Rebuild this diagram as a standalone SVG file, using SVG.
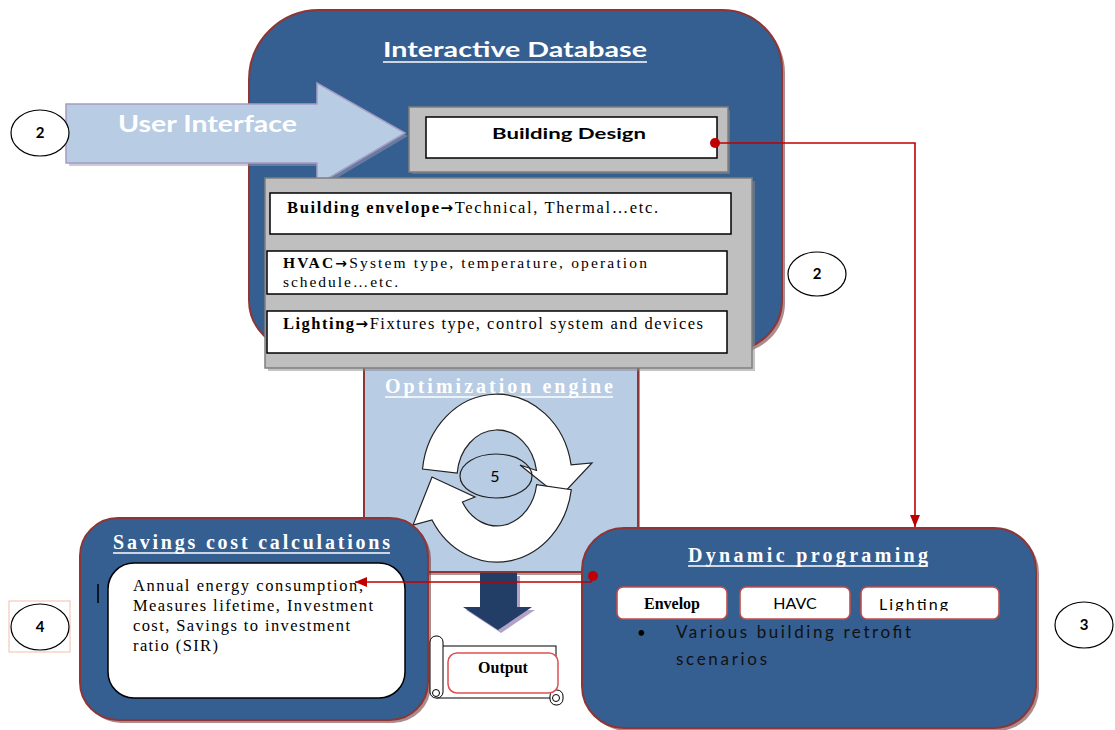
<svg xmlns="http://www.w3.org/2000/svg" width="1115" height="730" viewBox="0 0 1115 730">
<defs>
<style>
.blue{fill:#355e91;stroke:#8e3535;stroke-width:2}
.shadow{fill:#6e2a2a;opacity:0.55}
.gray{fill:#bfbfbf;stroke:#7f7f7f;stroke-width:1.5}
.wbox{fill:#ffffff;stroke:#000;stroke-width:1.5}
.num{fill:#fff;stroke:#000;stroke-width:1.2}
.numt{font-family:Lato,"Open Sans",sans-serif;font-weight:bold;font-size:15px;fill:#000;text-anchor:middle}
.sans{font-family:Lato,"Open Sans",sans-serif}
.serif{font-family:"Liberation Serif","Times New Roman",serif}
.arr{font-family:"DejaVu Sans",sans-serif;font-weight:bold}
.ttl{font-family:"Liberation Serif","Times New Roman",serif;font-weight:bold;fill:#fff}
.uline{stroke:#fff;stroke-width:1.3}
.red{stroke:#c00000;stroke-width:1.6;fill:none}
.cyc{fill:#fff;stroke:#222;stroke-width:1.2}
.sbox{fill:#fff;stroke:#c0504d;stroke-width:1.6}
</style>
<marker id="ah" viewBox="0 0 12 10" refX="12" refY="5" markerWidth="12" markerHeight="10" markerUnits="userSpaceOnUse" orient="auto">
<path d="M0,0 L12,5 L0,10 z" fill="#c00000"/>
</marker>
<clipPath id="lclip"><rect x="861" y="587" width="138" height="24"/></clipPath>
</defs>
<rect width="1115" height="730" fill="#fff"/>

<g id="optimization-engine">
<rect x="366" y="343" width="274" height="232" fill="#6e2a2a" opacity="0.5"/>
<rect x="364" y="340" width="274" height="232" fill="#b8cce4" stroke="#8e3535" stroke-width="2"/>
<text class="ttl" x="385" y="393" font-size="20" textLength="228" lengthAdjust="spacing">Optimization engine</text>
<line class="uline" x1="385" y1="397" x2="613" y2="397"/>
<g transform="translate(497,478)">
<path class="cyc" d="M -74.5,-9 A 75 84 0 0 1 74.1,-13.1 L 95,-15 L 63,19 L 23,-13 L 39.5,-7.5 A 40 48 0 0 0 -39.8,-5 Z"/>
<path class="cyc" d="M 74.3,11.7 A 75 84 0 0 1 -65,42 L -84,47 L -65,-1 L -22,19 L -34.6,24 A 40 48 0 0 0 39.6,6.7 Z"/>
<ellipse cx="-1" cy="-2" rx="36" ry="22" fill="none" stroke="#222" stroke-width="1.2"/>
<text class="sans" x="-2" y="4" font-size="16" text-anchor="middle" fill="#000">5</text>
</g>
</g>

<g id="interactive-database">
<path class="shadow" d="M 322,13 H 725 A 60 60 0 0 1 785,73 V 303 A 50 50 0 0 1 735,353 H 302 A 50 50 0 0 1 252,303 V 83 A 70 70 0 0 1 322,13 Z"/>
<path class="blue" d="M 319,10 H 722 A 60 60 0 0 1 782,70 V 300 A 50 50 0 0 1 732,350 H 299 A 50 50 0 0 1 249,300 V 80 A 70 70 0 0 1 319,10 Z"/>
<text class="sans" x="383" y="57" font-size="21" font-weight="bold" fill="#fff" textLength="264" lengthAdjust="spacingAndGlyphs">Interactive Database</text>
<line class="uline" x1="383" y1="62" x2="647" y2="62"/>
</g>

<g id="building-design">
<rect x="412" y="110" width="318" height="64" fill="#8a8a8a" opacity="0.5"/>
<rect class="gray" x="409" y="107" width="319" height="65"/>
<rect class="wbox" x="426" y="117" width="291" height="41"/>
<text class="sans" x="569" y="139" font-size="16" font-weight="bold" text-anchor="middle" fill="#000" textLength="154" lengthAdjust="spacingAndGlyphs">Building Design</text>
</g>

<g id="user-interface">
<path d="M 69,107 H 320 V 86 L 408,136 L 320,188 V 166 H 69 Z" fill="#9a9ab0" opacity="0.5"/>
<path d="M 66,104 H 317 V 83 L 405,133 L 317,185 V 163 H 66 Z" fill="#b8cce4" stroke="#a49cc4" stroke-width="1.5"/>
<text class="sans" x="118" y="132" font-size="22" font-weight="bold" fill="#fff" textLength="179" lengthAdjust="spacingAndGlyphs">User Interface</text>
</g>

<g id="parameters">
<rect x="268" y="181" width="487" height="190" fill="#8a8a8a" opacity="0.5"/>
<rect class="gray" x="265" y="178" width="487" height="190"/>
<rect class="wbox" x="270" y="193" width="461" height="41"/>
<text class="serif" x="287" y="213" font-size="16.5" fill="#000" textLength="371" lengthAdjust="spacing"><tspan font-weight="bold">Building envelope</tspan><tspan class="arr" font-size="15">→</tspan>Technical, Thermal…etc.</text>
<rect class="wbox" x="267" y="251" width="460" height="43"/>
<text class="serif" x="283" y="268" font-size="15.5" fill="#000" textLength="364" lengthAdjust="spacing"><tspan font-weight="bold">HVAC</tspan><tspan class="arr" font-size="14">→</tspan>System type, temperature, operation</text>
<text class="serif" x="283" y="287" font-size="15.5" fill="#000" textLength="115" lengthAdjust="spacing">schedule…etc.</text>
<rect class="wbox" x="267" y="311" width="460" height="42"/>
<text class="serif" x="283" y="329" font-size="16.5" fill="#000" textLength="420" lengthAdjust="spacing"><tspan font-weight="bold">Lighting</tspan><tspan class="arr" font-size="15">→</tspan>Fixtures type, control system and devices</text>
</g>

<g id="savings-cost">
<rect class="shadow" x="83" y="521" width="348" height="202" rx="38"/>
<rect class="blue" x="80" y="518" width="348" height="202" rx="38"/>
<text class="ttl" x="113" y="549" font-size="20" textLength="277" lengthAdjust="spacing">Savings cost calculations</text>
<line class="uline" x1="113" y1="553" x2="390" y2="553"/>
<rect class="wbox" x="108" y="563" width="297" height="135" rx="26"/>
<line x1="98" y1="584" x2="98" y2="603" stroke="#000" stroke-width="1.5"/>
<g class="serif" font-size="16.5" fill="#000">
<text x="133" y="591" textLength="230" lengthAdjust="spacing">Annual energy consumption,</text>
<text x="133" y="611" textLength="240" lengthAdjust="spacing">Measures lifetime, Investment</text>
<text x="133" y="631" textLength="217" lengthAdjust="spacing">cost, Savings to investment</text>
<text x="133" y="651" textLength="85" lengthAdjust="spacing">ratio (SIR)</text>
</g>
</g>

<g id="dynamic-programing">
<rect class="shadow" x="585" y="531" width="454" height="200" rx="42"/>
<rect class="blue" x="582" y="528" width="454" height="200" rx="42"/>
<text class="ttl" x="688" y="562" font-size="20" textLength="240" lengthAdjust="spacing">Dynamic programing</text>
<line class="uline" x1="688" y1="566" x2="928" y2="566"/>
<rect class="sbox" x="617" y="587" width="110" height="32" rx="6"/>
<text class="serif" x="672" y="609" font-size="16" font-weight="bold" text-anchor="middle" fill="#000">Envelop</text>
<rect class="sbox" x="740" y="587" width="110" height="32" rx="6"/>
<text class="sans" x="795" y="609" font-size="16" text-anchor="middle" fill="#000">HAVC</text>
<rect class="sbox" x="861" y="587" width="138" height="32" rx="6"/>
<text class="sans" x="879" y="610" font-size="16" fill="#000" clip-path="url(#lclip)" textLength="69" lengthAdjust="spacing">Lighting</text>
<text class="sans" x="637" y="638" font-size="15" fill="#000">•</text>
<text class="sans" x="676" y="638" font-size="17" fill="#111" textLength="235" lengthAdjust="spacing">Various building retrofit</text>
<text class="sans" x="676" y="665" font-size="17" fill="#111" textLength="91" lengthAdjust="spacing">scenarios</text>
</g>

<g id="output">
<path d="M 483,576 H 520 V 610 H 535 L 501,633 L 466,610 H 483 Z" fill="#b3a2c7"/>
<path d="M 480,573 H 517 V 607 H 532 L 498,630 L 463,607 H 480 Z" fill="#223e66"/>
<rect x="437" y="646" width="119" height="52" fill="#fff" stroke="#000" stroke-width="1"/>
<rect x="430" y="636" width="13" height="62" rx="6" fill="#fff" stroke="#000" stroke-width="1"/>
<circle cx="436" cy="693" r="3.5" fill="#fff" stroke="#000" stroke-width="1"/>
<rect x="550" y="690" width="13" height="15" rx="6" fill="#fff" stroke="#000" stroke-width="1"/>
<circle cx="556" cy="698" r="3.5" fill="#fff" stroke="#000" stroke-width="1"/>
<rect x="448" y="653" width="110" height="40" rx="9" fill="#fff" stroke="#e05050" stroke-width="1.5"/>
<text class="serif" x="503" y="673" font-size="16" font-weight="bold" text-anchor="middle" fill="#000">Output</text>
</g>

<g id="labels">
<g id="num-2-left"><ellipse class="num" cx="40" cy="133" rx="29" ry="23"/><text class="numt" x="40" y="138">2</text></g>
<g id="num-2-right"><ellipse class="num" cx="817" cy="274" rx="29" ry="22"/><text class="numt" x="817" y="279">2</text></g>
<g id="num-4"><rect x="9" y="601" width="61" height="51" fill="none" stroke="#f4c0a8" stroke-width="1"/><ellipse class="num" cx="40" cy="627" rx="29" ry="23"/><text class="numt" x="40" y="632">4</text></g>
<g id="num-3"><ellipse class="num" cx="1084" cy="625" rx="29" ry="23"/><text class="numt" x="1084" y="630">3</text></g>
</g>

<g id="connectors">
<polyline class="red" points="715,143 915,143 915,527" marker-end="url(#ah)"/>
<circle cx="715" cy="143" r="5" fill="#c00000"/>
<polyline class="red" points="593,576 591,582 355,582" marker-end="url(#ah)"/>
<circle cx="593" cy="576" r="5" fill="#c00000"/>
</g>
</svg>
